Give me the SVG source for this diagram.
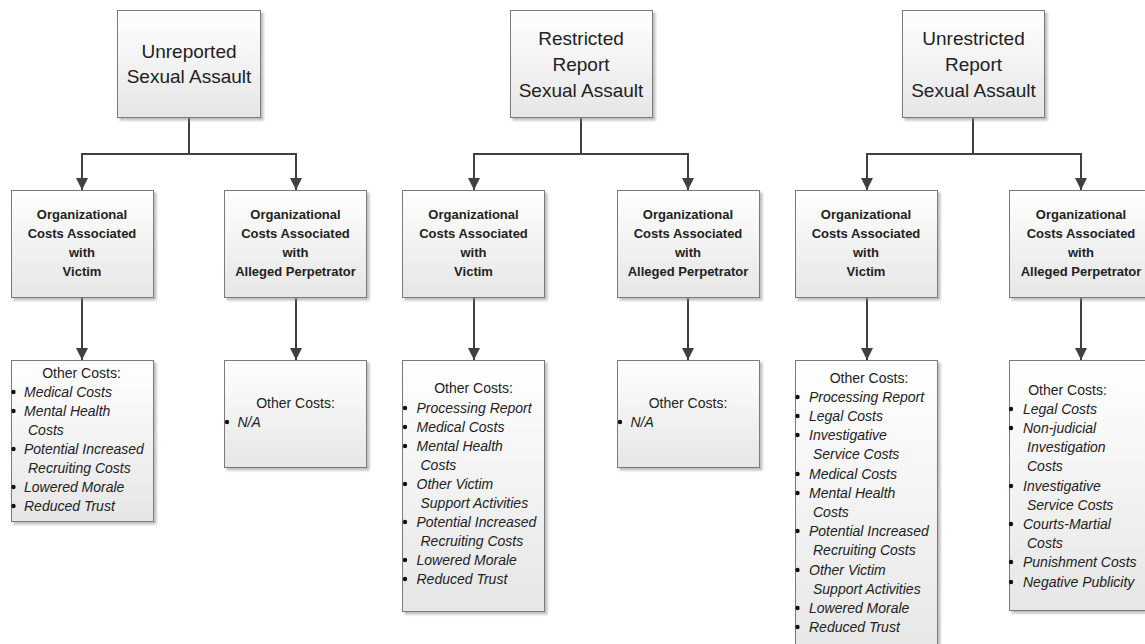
<svg xmlns="http://www.w3.org/2000/svg" width="1145" height="644" viewBox="0 0 1145 644">
<style>
.box{fill:url(#g);stroke:#7a7a7a;stroke-width:1;filter:url(#sh)}
.t{font-family:"Liberation Sans",Arial,sans-serif;fill:#222}
.top{font-size:19px;text-anchor:middle}
.mid{font-size:13px;font-weight:bold;text-anchor:middle}
.hd{font-size:14px;text-anchor:middle}
.it{font-size:14px;font-style:italic}
.b{fill:#111}
.c{fill:none;stroke:#404040;stroke-width:2}
</style>
<defs>
<linearGradient id="g" x1="0" y1="0" x2="0" y2="1">
<stop offset="0" stop-color="#ffffff"/>
<stop offset="1" stop-color="#e6e6e6"/>
</linearGradient>
<filter id="sh" x="-10%" y="-10%" width="130%" height="130%">
<feDropShadow dx="2.5" dy="2.5" stdDeviation="1.2" flood-color="#8a8a8a" flood-opacity="0.55"/>
</filter>
<marker id="ar" markerUnits="userSpaceOnUse" markerWidth="12" markerHeight="12" viewBox="0 0 12 12" refX="12" refY="6" orient="auto">
<path d="M0,0 L12,6 L0,12 z" fill="#404040"/>
</marker>
</defs>

<g id="connectors">
<path class="c" d="M189,118 V154 M82,154 H296"/>
<path class="c" d="M82,153 V190" marker-end="url(#ar)"/>
<path class="c" d="M296,153 V190" marker-end="url(#ar)"/>
<path class="c" d="M82,297 V360" marker-end="url(#ar)"/>
<path class="c" d="M296,297 V360" marker-end="url(#ar)"/>
<path class="c" d="M581,118 V154 M474,154 H688"/>
<path class="c" d="M474,153 V190" marker-end="url(#ar)"/>
<path class="c" d="M688,153 V190" marker-end="url(#ar)"/>
<path class="c" d="M474,297 V360" marker-end="url(#ar)"/>
<path class="c" d="M688,297 V360" marker-end="url(#ar)"/>
<path class="c" d="M973,118 V154 M867,154 H1081"/>
<path class="c" d="M867,153 V190" marker-end="url(#ar)"/>
<path class="c" d="M1081,153 V190" marker-end="url(#ar)"/>
<path class="c" d="M867,297 V360" marker-end="url(#ar)"/>
<path class="c" d="M1081,297 V360" marker-end="url(#ar)"/>
</g>

<g id="top1">
<rect class="box" x="117.5" y="10.5" width="143" height="107"/>
<text class="t top" x="189" y="58">Unreported</text>
<text class="t top" x="189" y="83">Sexual Assault</text>
</g>
<g id="top2">
<rect class="box" x="510.5" y="10.5" width="142" height="107"/>
<text class="t top" x="581" y="45">Restricted</text>
<text class="t top" x="581" y="71">Report</text>
<text class="t top" x="581" y="97">Sexual Assault</text>
</g>
<g id="top3">
<rect class="box" x="902.5" y="10.5" width="142" height="107"/>
<text class="t top" x="973.5" y="45">Unrestricted</text>
<text class="t top" x="973.5" y="71">Report</text>
<text class="t top" x="973.5" y="97">Sexual Assault</text>
</g>

<g id="mid1v">
<rect class="box" x="11.5" y="190.5" width="142" height="107"/>
<text class="t mid" x="82" y="219">Organizational</text>
<text class="t mid" x="82" y="238">Costs Associated</text>
<text class="t mid" x="82" y="257">with</text>
<text class="t mid" x="82" y="276">Victim</text>
</g>
<g id="mid1p">
<rect class="box" x="224.5" y="190.5" width="142" height="107"/>
<text class="t mid" x="295.5" y="219">Organizational</text>
<text class="t mid" x="295.5" y="238">Costs Associated</text>
<text class="t mid" x="295.5" y="257">with</text>
<text class="t mid" x="295.5" y="276">Alleged Perpetrator</text>
</g>
<g id="mid2v">
<rect class="box" x="402.5" y="190.5" width="142" height="107"/>
<text class="t mid" x="473.5" y="219">Organizational</text>
<text class="t mid" x="473.5" y="238">Costs Associated</text>
<text class="t mid" x="473.5" y="257">with</text>
<text class="t mid" x="473.5" y="276">Victim</text>
</g>
<g id="mid2p">
<rect class="box" x="617.5" y="190.5" width="142" height="107"/>
<text class="t mid" x="688" y="219">Organizational</text>
<text class="t mid" x="688" y="238">Costs Associated</text>
<text class="t mid" x="688" y="257">with</text>
<text class="t mid" x="688" y="276">Alleged Perpetrator</text>
</g>
<g id="mid3v">
<rect class="box" x="795.5" y="190.5" width="142" height="107"/>
<text class="t mid" x="866" y="219">Organizational</text>
<text class="t mid" x="866" y="238">Costs Associated</text>
<text class="t mid" x="866" y="257">with</text>
<text class="t mid" x="866" y="276">Victim</text>
</g>
<g id="mid3p">
<rect class="box" x="1009.5" y="190.5" width="142" height="107"/>
<text class="t mid" x="1081" y="219">Organizational</text>
<text class="t mid" x="1081" y="238">Costs Associated</text>
<text class="t mid" x="1081" y="257">with</text>
<text class="t mid" x="1081" y="276">Alleged Perpetrator</text>
</g>

<g id="bot1v">
<rect class="box" x="11.5" y="360.5" width="142" height="161"/>
<text class="t hd" x="81.5" y="378">Other Costs:</text>
<circle class="b" cx="13.5" cy="392" r="2.2"/><text class="t it" x="24" y="397">Medical Costs</text>
<circle class="b" cx="13.5" cy="411" r="2.2"/><text class="t it" x="24" y="416">Mental Health</text>
<text class="t it" x="28" y="435">Costs</text>
<circle class="b" cx="13.5" cy="449" r="2.2"/><text class="t it" x="24" y="454">Potential Increased</text>
<text class="t it" x="28" y="473">Recruiting Costs</text>
<circle class="b" cx="13.5" cy="487" r="2.2"/><text class="t it" x="24" y="492">Lowered Morale</text>
<circle class="b" cx="13.5" cy="506" r="2.2"/><text class="t it" x="24" y="511">Reduced Trust</text>
</g>
<g id="bot1p">
<rect class="box" x="224.5" y="360.5" width="142" height="107"/>
<text class="t hd" x="295.5" y="408">Other Costs:</text>
<circle class="b" cx="227" cy="422" r="2.2"/><text class="t it" x="237.5" y="427">N/A</text>
</g>

<g id="bot2v">
<rect class="box" x="402.5" y="360.5" width="142" height="251"/>
<text class="t hd" x="473.5" y="393">Other Costs:</text>
<circle class="b" cx="405" cy="408" r="2.2"/><text class="t it" x="416.5" y="413">Processing Report</text>
<circle class="b" cx="405" cy="427" r="2.2"/><text class="t it" x="416.5" y="432">Medical Costs</text>
<circle class="b" cx="405" cy="446" r="2.2"/><text class="t it" x="416.5" y="451">Mental Health</text>
<text class="t it" x="420.5" y="470">Costs</text>
<circle class="b" cx="405" cy="484" r="2.2"/><text class="t it" x="416.5" y="489">Other Victim</text>
<text class="t it" x="420.5" y="508">Support Activities</text>
<circle class="b" cx="405" cy="522" r="2.2"/><text class="t it" x="416.5" y="527">Potential Increased</text>
<text class="t it" x="420.5" y="546">Recruiting Costs</text>
<circle class="b" cx="405" cy="560" r="2.2"/><text class="t it" x="416.5" y="565">Lowered Morale</text>
<circle class="b" cx="405" cy="579" r="2.2"/><text class="t it" x="416.5" y="584">Reduced Trust</text>
</g>
<g id="bot2p">
<rect class="box" x="617.5" y="360.5" width="142" height="107"/>
<text class="t hd" x="688" y="408">Other Costs:</text>
<circle class="b" cx="620" cy="422" r="2.2"/><text class="t it" x="630.5" y="427">N/A</text>
</g>

<g id="bot3v">
<rect class="box" x="795.5" y="360.5" width="142" height="300"/>
<text class="t hd" x="869" y="383">Other Costs:</text>
<circle class="b" cx="797.5" cy="397" r="2.2"/><text class="t it" x="809" y="402">Processing Report</text>
<circle class="b" cx="797.5" cy="416" r="2.2"/><text class="t it" x="809" y="421">Legal Costs</text>
<circle class="b" cx="797.5" cy="435" r="2.2"/><text class="t it" x="809" y="440">Investigative</text>
<text class="t it" x="813" y="459">Service Costs</text>
<circle class="b" cx="797.5" cy="474" r="2.2"/><text class="t it" x="809" y="479">Medical Costs</text>
<circle class="b" cx="797.5" cy="493" r="2.2"/><text class="t it" x="809" y="498">Mental Health</text>
<text class="t it" x="813" y="517">Costs</text>
<circle class="b" cx="797.5" cy="531" r="2.2"/><text class="t it" x="809" y="536">Potential Increased</text>
<text class="t it" x="813" y="555">Recruiting Costs</text>
<circle class="b" cx="797.5" cy="570" r="2.2"/><text class="t it" x="809" y="575">Other Victim</text>
<text class="t it" x="813" y="594">Support Activities</text>
<circle class="b" cx="797.5" cy="608" r="2.2"/><text class="t it" x="809" y="613">Lowered Morale</text>
<circle class="b" cx="797.5" cy="627" r="2.2"/><text class="t it" x="809" y="632">Reduced Trust</text>
</g>
<g id="bot3p">
<rect class="box" x="1009.5" y="360.5" width="142" height="250"/>
<text class="t hd" x="1067.5" y="395">Other Costs:</text>
<circle class="b" cx="1011" cy="409" r="2.2"/><text class="t it" x="1023" y="414">Legal Costs</text>
<circle class="b" cx="1011" cy="428" r="2.2"/><text class="t it" x="1023" y="433">Non-judicial</text>
<text class="t it" x="1027" y="452">Investigation</text>
<text class="t it" x="1027" y="471">Costs</text>
<circle class="b" cx="1011" cy="486" r="2.2"/><text class="t it" x="1023" y="491">Investigative</text>
<text class="t it" x="1027" y="510">Service Costs</text>
<circle class="b" cx="1011" cy="524" r="2.2"/><text class="t it" x="1023" y="529">Courts-Martial</text>
<text class="t it" x="1027" y="548">Costs</text>
<circle class="b" cx="1011" cy="562" r="2.2"/><text class="t it" x="1023" y="567">Punishment Costs</text>
<circle class="b" cx="1011" cy="582" r="2.2"/><text class="t it" x="1023" y="587">Negative Publicity</text>
</g>
</svg>
